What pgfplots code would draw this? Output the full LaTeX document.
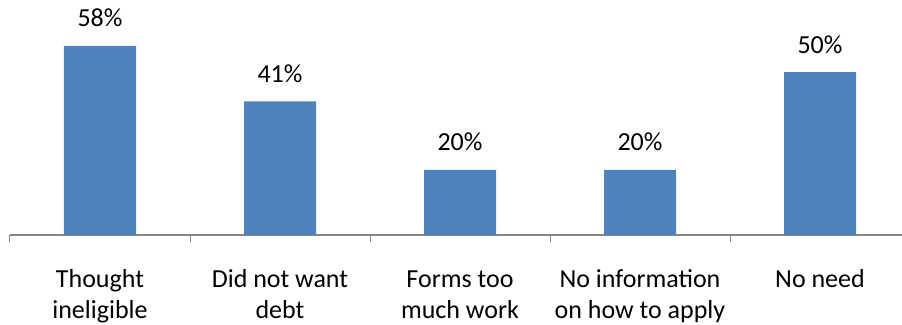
\documentclass[border=0pt]{standalone}
\usepackage{fontspec}
\setmainfont{Carlito}
\usepackage{pgfplots}
\pgfplotsset{compat=1.18}
\definecolor{barblue}{HTML}{4F81BD}
\definecolor{axgray}{HTML}{868686}

\begin{document}
\begin{tikzpicture}
\useasboundingbox (-10pt,-89pt) rectangle (892pt,235pt);
\begin{axis}[
    scale only axis,
    width=892pt,
    height=234.7pt,
    xmin=-0.5, xmax=4.4556,
    ymin=0, ymax=72,
    axis x line*=bottom,
    axis y line=none,
    x axis line style={draw=axgray, line width=1.3pt},
    xtick={-0.5,0.5,1.5,2.5,3.5},
    xticklabels={},
    tick align=inside,
    major tick length=7pt,
    x tick style={draw=axgray, line width=1pt},
    extra x ticks={0,1,2,3,4},
    % every label has two lines so that the first lines share a baseline
    extra x tick labels={Thought\\ineligible, Did not want\\debt, Forms too\\much work, No information\\on how to apply, No need\\\strut},
    extra x tick style={major tick length=0pt,
        xticklabel style={align=center, font=\fontsize{26}{31}\selectfont, anchor=base, yshift=-83pt}},
    ybar,
    bar width=72pt,
    clip=false,
    nodes near coords={\pgfmathprintnumber{\pgfplotspointmeta}\%},
    nodes near coords style={font=\fontsize{26}{31}\selectfont, anchor=base, yshift=19pt, /pgf/number format/assume math mode=true},
]
\addplot[fill=barblue, draw=none] coordinates {
    (0,58) (1,41) (2,20) (3,20) (4,50)
};
\end{axis}
\end{tikzpicture}
\end{document}
